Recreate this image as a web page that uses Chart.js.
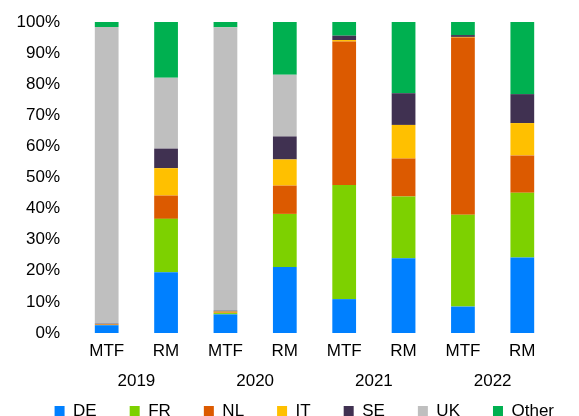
<!DOCTYPE html>
<html lang="en">

<head>
  <meta charset="UTF-8">
  <meta name="viewport" content="width=device-width, initial-scale=1.0">
  <script src="https://cdn.jsdelivr.net/npm/chart.js"></script>
  <title>Share by country - MTF vs RM</title>
  <style>
    html, body { margin: 0; padding: 0; background: #fff; overflow: hidden; }
    .grafico { width: 579px; height: 416px; }
  </style>
</head>

<body>

  <div class="grafico">
    <canvas id="canvas_grafico"></canvas>
  </div>

  <script>
      // categorias (eixo x) e anos (segunda linha do eixo)
      const venues = ['MTF', 'RM', 'MTF', 'RM', 'MTF', 'RM', 'MTF', 'RM'];
      const years = ['2019', '2020', '2021', '2022'];
      const yTicks = [0, 10, 20, 30, 40, 50, 60, 70, 80, 90, 100];

      // % por pais, mesma ordem de venues
      const DE    = [2.5, 19.5, 6.0, 21.2, 10.9, 24.0, 8.5, 24.3];
      const FR    = [0.1, 17.2, 0.4, 17.1, 36.7, 19.9, 29.5, 20.8];
      const NL    = [0.2, 7.5, 0.2, 9.1, 46.1, 12.2, 57.0, 12.0];
      const IT    = [0.1, 8.8, 0.3, 8.4, 0.5, 10.8, 0.2, 10.4];
      const SE    = [0.1, 6.3, 0.3, 7.4, 1.4, 10.2, 0.6, 9.3];
      const UK    = [95.4, 22.8, 91.1, 19.8, 0, 0, 0, 0];
      const Other = [1.6, 17.9, 1.7, 17.0, 4.4, 22.9, 4.2, 23.2];

      var fonte = { family: "'Liberation Sans', Arial, sans-serif", size: 17 };

      function serie(label, data, cor) {
          return {
              label: label,
              data: data,
              backgroundColor: cor,
              borderWidth: 0,
              barPercentage: 0.4,
              categoryPercentage: 1.0
          };
      }

      var dados = {
          labels: venues,
          datasets: [
              serie('DE', DE, '#0080FF'),
              serie('FR', FR, '#7DD100'),
              serie('NL', NL, '#DC5A00'),
              serie('IT', IT, '#FFC000'),
              serie('SE', SE, '#403151'),
              serie('UK', UK, '#BFBFBF'),
              serie('Other', Other, '#00B050')
          ]
      };

      var ctx = document.getElementById('canvas_grafico').getContext('2d');

      window.grafico = new Chart(ctx, {
          type: 'bar',
          data: dados,
          options: {
              responsive: true,
              maintainAspectRatio: false,
              animation: false,
              // right negativo: a legenda encosta mais a direita, como no original
              layout: { padding: { left: 0, right: -8, top: 22, bottom: 0 } },
              plugins: {
                  tooltip: { enabled: false },
                  legend: {
                      position: 'bottom',
                      align: 'end',
                      // legenda cortada na borda de baixo
                      maxHeight: 46.5,
                      labels: {
                          boxWidth: 10,
                          boxHeight: 10,
                          padding: 33,
                          color: '#000',
                          font: fonte
                      }
                  }
              },
              scales: {
                  x: {
                      stacked: true,
                      grid: { display: false, drawTicks: false },
                      border: { display: false },
                      ticks: { color: '#000', font: fonte, padding: 8, maxRotation: 0 },
                      afterFit: function (s) { s.height = 28.4; }
                  },
                  x2: {
                      type: 'category',
                      labels: years,
                      position: 'bottom',
                      offset: true,
                      grid: { display: false, drawTicks: false },
                      border: { display: false },
                      // mirror evita o recorte dos rotulos; padding negativo volta o texto para baixo
                      ticks: { color: '#000', font: fonte, mirror: true, padding: -30, maxRotation: 0 },
                      afterFit: function (s) { s.height = 8.1; }
                  },
                  y: {
                      stacked: true,
                      min: 0,
                      max: 100,
                      grid: { display: false, drawTicks: false },
                      border: { display: false },
                      afterBuildTicks: function (s) { s.ticks = yTicks.map(v => ({ value: v })); },
                      ticks: {
                          color: '#000',
                          font: fonte,
                          padding: 17,
                          callback: v => v + '%'
                      },
                      afterFit: function (s) {
                          s.width = 77;
                          s.paddingTop = 0;
                          s.paddingBottom = 0;
                      }
                  },
                  y2: {
                      position: 'right',
                      display: true,
                      grid: { display: false, drawTicks: false },
                      border: { display: false },
                      ticks: { display: false },
                      afterFit: function (s) { s.width = 35; }
                  }
              }
          }
      });
  </script>
</body>

</html>
